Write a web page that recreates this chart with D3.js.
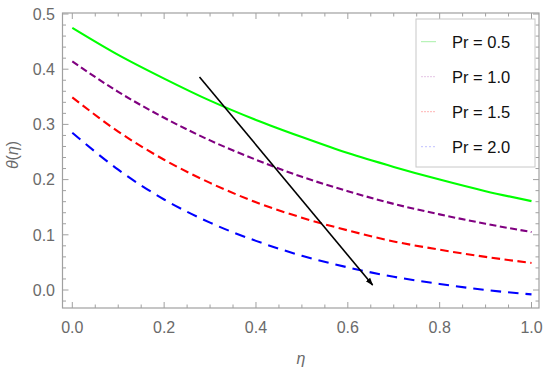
<!doctype html>
<html>
<head>
  <meta charset="utf-8">
  <title>theta profiles</title>
  <style>
    body { margin: 0; background: #fff; }
    svg { display: block; font-family: "Liberation Sans", Arial, sans-serif; }
  </style>
</head>
<body>
  <div id="chart"></div>
  <script src="https://cdn.jsdelivr.net/npm/d3@7"></script>
  <script>
    // data
    const etas = [0, 0.1, 0.2, 0.3, 0.4, 0.5, 0.6, 0.7, 0.8, 0.9, 1.0];
    const pr05 = [0.475, 0.426, 0.383, 0.343, 0.308, 0.277, 0.248, 0.223, 0.200, 0.179, 0.161];
    const pr10 = [0.414, 0.359, 0.312, 0.271, 0.236, 0.205, 0.179, 0.156, 0.137, 0.120, 0.105];
    const pr15 = [0.349, 0.287, 0.236, 0.194, 0.159, 0.131, 0.108, 0.088, 0.073, 0.060, 0.049];
    const pr20 = [0.285, 0.218, 0.164, 0.122, 0.089, 0.062, 0.041, 0.024, 0.011, 0.000, -0.008];
    const legendLabels = ['Pr = 0.5', 'Pr = 1.0', 'Pr = 1.5', 'Pr = 2.0'];
    const xTicks = [0, 0.2, 0.4, 0.6, 0.8, 1.0];
    const yTicks = [0, 0.1, 0.2, 0.3, 0.4, 0.5];
    const arrowFrom = [0.277, 0.386];
    const arrowTo = [0.654, 0.009];

    const series = [
      { vals: pr05, color: '#00ff00', dash: null, legColor: '#a8f0a8', legDash: null },
      { vals: pr10, color: '#800080', dash: '7,3.5', legColor: '#e4c4e4', legDash: '2,1' },
      { vals: pr15, color: '#ff0000', dash: '8.5,4.5', legColor: '#ffb4b4', legDash: '2,1' },
      { vals: pr20, color: '#0000ff', dash: '10.5,7', legColor: '#c0c0ff', legDash: '2,2' }
    ];

    const W = 550, H = 373;
    const frame = { left: 62.5, right: 539, top: 13, bottom: 308 };

    const x = d3.scaleLinear().domain([0, 1]).range([72.3, 531.5]);
    const y = d3.scaleLinear().domain([0, 0.5]).range([290, 14]);

    const svg = d3.select('#chart').append('svg').attr('width', W).attr('height', H);

    // curves
    const line = d3.line()
      .x((d, i) => x(etas[i]))
      .y(d => y(d))
      .curve(d3.curveMonotoneX);

    svg.selectAll('path.curve').data(series).enter().append('path')
      .attr('class', 'curve')
      .attr('d', s => line(s.vals))
      .attr('fill', 'none')
      .attr('stroke', s => s.color)
      .attr('stroke-width', 2.1)
      .attr('stroke-dasharray', s => s.dash);

    // arrow
    svg.append('defs').append('marker')
      .attr('id', 'arr')
      .attr('viewBox', '0 0 10 10')
      .attr('refX', 9).attr('refY', 5)
      .attr('markerWidth', 5).attr('markerHeight', 5)
      .attr('orient', 'auto')
      .append('path').attr('d', 'M0,1.5 L10,5 L0,8.5 Z').attr('fill', '#000');

    svg.append('line')
      .attr('x1', x(arrowFrom[0])).attr('y1', y(arrowFrom[1]))
      .attr('x2', x(arrowTo[0])).attr('y2', y(arrowTo[1]))
      .attr('stroke', '#000').attr('stroke-width', 1.6)
      .attr('marker-end', 'url(#arr)');

    // frame
    const frameColor = '#a0a0a0';
    svg.append('rect')
      .attr('x', frame.left).attr('y', frame.top)
      .attr('width', frame.right - frame.left).attr('height', frame.bottom - frame.top)
      .attr('fill', 'none').attr('stroke', frameColor).attr('stroke-width', 1.2);

    // ticks pointing inward on all four sides
    const xMinor = d3.range(0, 1.0001, 0.05);
    const yMinor = d3.range(-0.02, 0.5001, 0.02);
    const isMajor = (v, step) => Math.abs(v / step - Math.round(v / step)) < 1e-6;

    const tg = svg.append('g').attr('stroke', frameColor).attr('stroke-width', 1);
    xMinor.forEach(v => {
      const len = isMajor(v, 0.2) ? 6 : 3.5;
      tg.append('line').attr('x1', x(v)).attr('x2', x(v)).attr('y1', frame.bottom).attr('y2', frame.bottom - len);
      tg.append('line').attr('x1', x(v)).attr('x2', x(v)).attr('y1', frame.top).attr('y2', frame.top + len);
    });
    yMinor.forEach(v => {
      const len = isMajor(v, 0.1) ? 6 : 3.5;
      tg.append('line').attr('y1', y(v)).attr('y2', y(v)).attr('x1', frame.left).attr('x2', frame.left + len);
      tg.append('line').attr('y1', y(v)).attr('y2', y(v)).attr('x1', frame.right).attr('x2', frame.right - len);
    });

    // tick labels
    const labColor = '#6a6a6a';
    svg.append('g').selectAll('text').data(xTicks).enter().append('text')
      .attr('x', d => x(d)).attr('y', 333)
      .attr('text-anchor', 'middle')
      .attr('font-size', 16).attr('fill', labColor)
      .text(d => d.toFixed(1));

    svg.append('g').selectAll('text').data(yTicks).enter().append('text')
      .attr('x', 55).attr('y', d => y(d) + 5.7)
      .attr('text-anchor', 'end')
      .attr('font-size', 16).attr('fill', labColor)
      .text(d => d.toFixed(1));

    // axis titles
    svg.append('text')
      .attr('x', 301).attr('y', 364)
      .attr('text-anchor', 'middle')
      .attr('font-size', 16).attr('font-style', 'italic').attr('fill', labColor)
      .text('η');

    svg.append('text')
      .attr('transform', 'translate(18,155) rotate(-90)')
      .attr('text-anchor', 'middle')
      .attr('font-size', 16).attr('fill', labColor)
      .html('<tspan font-style="italic">θ</tspan>(<tspan font-style="italic">η</tspan>)');

    // legend
    const leg = svg.append('g');
    leg.append('rect')
      .attr('x', 416).attr('y', 19).attr('width', 119).attr('height', 148)
      .attr('fill', '#fff').attr('stroke', '#c8c8c8').attr('stroke-width', 1);

    legendLabels.forEach((lab, i) => {
      const cy = 41.7 + i * 35;
      const s = series[i];
      leg.append('line')
        .attr('x1', 421).attr('x2', 436).attr('y1', cy).attr('y2', cy)
        .attr('stroke', s.legColor).attr('stroke-width', 1)
        .attr('stroke-dasharray', s.legDash);
      leg.append('text')
        .attr('x', 452).attr('y', cy + 5.8)
        .attr('font-size', 16.5).attr('fill', '#111')
        .text(lab);
    });
  </script>
</body>
</html>
